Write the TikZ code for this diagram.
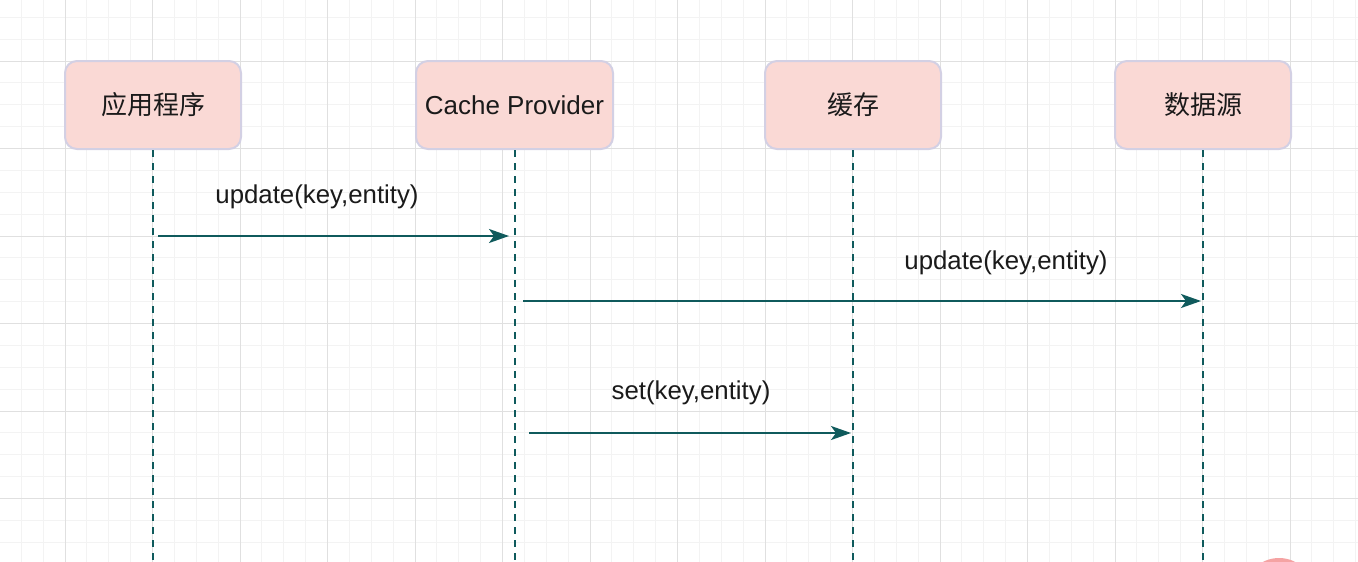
\documentclass[tikz,border=0pt]{standalone}
\usepackage{fontspec}
\setmainfont{Liberation Sans}
\newfontfamily\cjk{Noto Sans CJK SC}
\usetikzlibrary{arrows.meta}
\definecolor{teal1}{HTML}{0F5A5C}
\definecolor{boxfill}{HTML}{FAD9D5}
\definecolor{boxline}{HTML}{D3D0E4}
\definecolor{gmaj}{HTML}{E0E0E0}
\definecolor{gmin}{HTML}{F3F3F3}
\definecolor{txt}{HTML}{1A1A1A}
\definecolor{dot}{HTML}{F5A3A3}
\newcommand{\lowr}[1]{\raisebox{-2.5pt}{#1}}
\begin{document}
\begin{tikzpicture}[x=1pt,y=-1pt,
  actor/.style={draw=boxline, line width=2pt, fill=boxfill, rounded corners=12pt,
    minimum width=176pt, minimum height=88pt, inner sep=0pt, text=txt,
    font=\fontsize{26}{30}\selectfont},
  life/.style={draw=teal1, line width=2pt, dash pattern=on 6.5pt off 6.5pt},
  msg/.style={draw=teal1, line width=2pt, -{Stealth[length=20pt,width=14pt,inset=5pt]}},
  lbl/.style={font=\fontsize{25.8}{30}\selectfont, inner sep=0pt, text=txt},
  gminor/.style={draw=gmin, line width=1pt},
  gmajor/.style={draw=gmaj, line width=1pt}]
\useasboundingbox (0,0) rectangle (1358,562);
\fill[white] (0,0) rectangle (1358,562);
% grid
\foreach \i in {-2,...,59} {
  \draw[gminor] ({65+\i*21.875},0) -- ({65+\i*21.875},562);
}
\foreach \j in {-2,...,24} {
  \draw[gminor] (0,{61+\j*21.875}) -- (1358,{61+\j*21.875});
}
\foreach \i in {0,...,14} {
  \draw[gmajor] ({65+\i*87.5},0) -- ({65+\i*87.5},562);
}
\foreach \j in {0,...,5} {
  \draw[gmajor] (0,{61+\j*87.5}) -- (1358,{61+\j*87.5});
}
% partly visible circle
\fill[dot] (1279,593) circle (35);
% actors
\node[actor] (app) at (153,105) {\lowr{\cjk 应用程序}};
\node[actor, minimum width=197pt] (prov) at (514.5,105) {\lowr{Cache Provider}};
\node[actor] (cache) at (853,105) {\lowr{\cjk 缓存}};
\node[actor] (src) at (1203,105) {\lowr{\cjk 数据源}};
% lifeline ends
\coordinate (appE) at (153,562);
\coordinate (provE) at (515,562);
\coordinate (cacheE) at (853,562);
\coordinate (srcE) at (1203,562);
\draw[life] (app.south) -- (appE);
\draw[life] (prov.south -| provE) -- (provE);
\draw[life] (cache.south) -- (cacheE);
\draw[life] (src.south) -- (srcE);
% messages
\coordinate (m1s) at (158,236);
\coordinate (m1e) at (509,236);
\coordinate (m2s) at (523,301);
\coordinate (m2e) at (1201,301);
\coordinate (m3s) at (529,433);
\coordinate (m3e) at (851,433);
\draw[msg] (m1s) -- (m1e);
\draw[msg] (m2s) -- (m2e);
\draw[msg] (m3s) -- (m3e);
\node[lbl] (l1) at (317,197) {update(key,entity)};
\node[lbl] (l2) at (1006,263) {update(key,entity)};
\node[lbl] (l3) at (691,393) {set(key,entity)};
\end{tikzpicture}
\end{document}
